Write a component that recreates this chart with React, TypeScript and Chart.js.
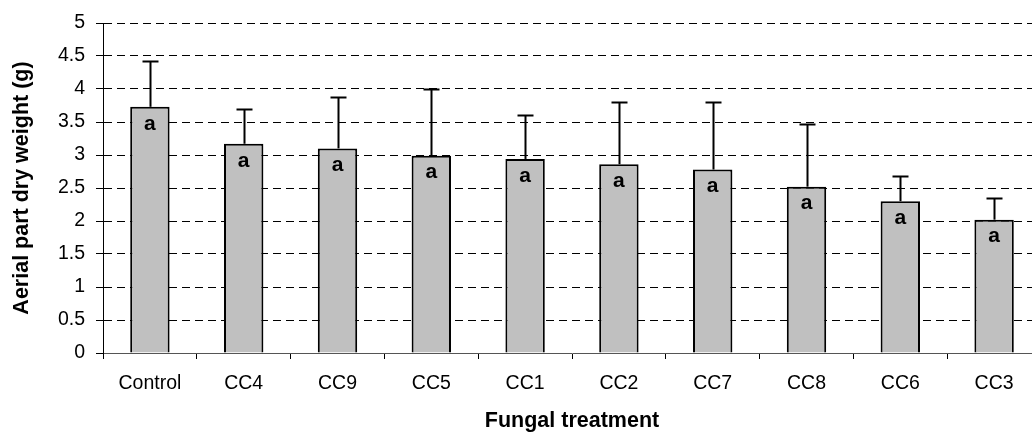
import React, { useEffect, useRef } from "react";
import { Chart, registerables } from "chart.js";

Chart.register(...registerables);

const categories = ["Control", "CC4", "CC9", "CC5", "CC1", "CC2", "CC7", "CC8", "CC6", "CC3"];
const meanValues = [3.73, 3.17, 3.1, 2.99, 2.94, 2.86, 2.78, 2.52, 2.3, 2.02];
const errorTops = [4.42, 3.7, 3.88, 4.0, 3.6, 3.81, 3.81, 3.47, 2.68, 2.35];
const letters = ["a", "a", "a", "a", "a", "a", "a", "a", "a", "a"];
const yTicks = [0, 0.5, 1, 1.5, 2, 2.5, 3, 3.5, 4, 4.5, 5];

const FONT = "Arial, 'Liberation Sans', sans-serif";

const overlayPlugin = {
  id: "overlay",
  afterDatasetsDraw(chart: any) {
    const ctx = chart.ctx;
    const meta = chart.getDatasetMeta(0);
    const y = chart.scales.y;
    ctx.save();
    meta.data.forEach((bar: any, i: number) => {
      const x = Math.round(bar.x) + 0.5;
      const yTop = y.getPixelForValue(meanValues[i]);
      const yErr = Math.round(y.getPixelForValue(errorTops[i])) + 0.5;
      ctx.strokeStyle = "#000";
      ctx.lineWidth = 2;
      ctx.beginPath();
      ctx.moveTo(x, yTop);
      ctx.lineTo(x, yErr);
      ctx.stroke();
      ctx.beginPath();
      ctx.moveTo(x - 8, yErr);
      ctx.lineTo(x + 8, yErr);
      ctx.stroke();
      ctx.fillStyle = "#000";
      ctx.font = `bold 21px ${FONT}`;
      ctx.textAlign = "center";
      ctx.textBaseline = "middle";
      ctx.fillText(letters[i], bar.x, yTop + 17);
    });
    ctx.restore();
  },
};

export default function App() {
  const ref = useRef<HTMLCanvasElement | null>(null);
  useEffect(() => {
    if (!ref.current) return;
    const chart = new Chart(ref.current, {
      type: "bar",
      data: {
        labels: categories,
        datasets: [
          {
            data: meanValues,
            backgroundColor: "#C0C0C0",
            borderColor: "#000",
            borderWidth: 2,
            categoryPercentage: 1,
            barPercentage: 0.42,
          },
        ],
      },
      options: {
        animation: false,
        responsive: true,
        maintainAspectRatio: false,
        layout: { padding: { top: 23, right: 0, left: 0, bottom: 0 } },
        plugins: { legend: { display: false }, tooltip: { enabled: false } },
        scales: {
          x: {
            afterFit: (s: any) => {
              s.height = 79;
            },
            grid: {
              drawOnChartArea: false,
              drawTicks: true,
              tickLength: 6,
              tickColor: "#000",
              offset: true,
            },
            border: { color: "#555", width: 1 },
            ticks: { color: "#000", font: { family: FONT, size: 19.5 }, padding: 13, maxRotation: 0 },
            title: {
              display: true,
              text: "Fungal treatment",
              color: "#000",
              font: { family: FONT, size: 21.5, weight: "bold", lineHeight: 1 },
              padding: { top: 0, bottom: 0 },
            },
          },
          y: {
            min: 0,
            max: 5,
            afterFit: (s: any) => {
              s.width = 103;
            },
            afterBuildTicks: (s: any) => {
              s.ticks = yTicks.map((v) => ({ value: v }));
            },
            grid: {
              color: (c: any) => (c.tick && c.tick.value === 0 ? "rgba(0,0,0,0)" : "#000"),
              lineWidth: 1,
              drawTicks: true,
              tickLength: 7,
              tickColor: "#000",
              tickBorderDash: [],
            },
            border: { color: "#000", width: 1, dash: [8, 5] },
            ticks: {
              color: "#000",
              font: { family: FONT, size: 19.5 },
              padding: 11,
              callback: (v: any) => String(v),
            },
            title: {
              display: true,
              text: "Aerial part dry weight (g)",
              color: "#000",
              font: { family: FONT, size: 21.5, weight: "bold", lineHeight: 1 },
              padding: { top: 11, bottom: 0 },
            },
          },
        },
      },
      plugins: [overlayPlugin],
    } as any);
    return () => chart.destroy();
  }, []);
  return (
    <div style={{ position: "fixed", left: 0, top: 0, width: 1041, height: 432 }}>
      <canvas ref={ref} />
    </div>
  );
}
